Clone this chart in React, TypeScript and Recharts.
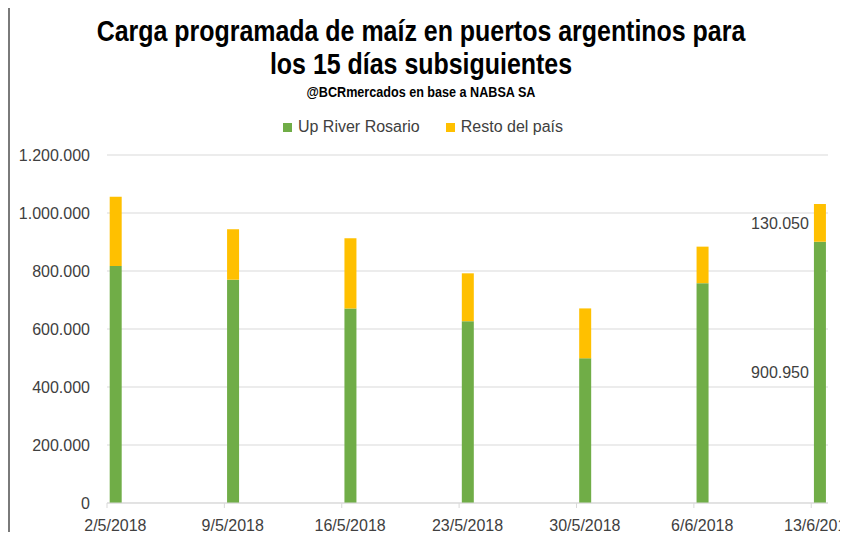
import { Bar, BarChart, CartesianGrid, LabelList, Legend, XAxis, YAxis } from "recharts";

const dates = ["2/5/2018", "9/5/2018", "16/5/2018", "23/5/2018", "30/5/2018", "6/6/2018", "13/6/2018"];
const upRiverRosario = [817000, 770000, 671000, 627000, 499000, 758000, 900950];
const restoDelPais = [239000, 174000, 242000, 165000, 172000, 126000, 130050];
const yTicks = [0, 200000, 400000, 600000, 800000, 1000000, 1200000];

const GREEN = "#70ad47";
const YELLOW = "#ffc000";
const TEXT = "#404040";
const GRID = "#d9d9d9";
const FONT = "'Liberation Sans', Arial, sans-serif";

// Excel date axis: one slot per day, bar centered in its day slot
const WIDTH = 848;
const HEIGHT = 540;
const LEGEND_H = 18; // recharts adds the legend box to the top offset
const MARGIN = { top: 155 - LEGEND_H, right: 20, bottom: 0, left: 10 };
const Y_AXIS_W = 97;
const TOTAL_DAYS = 43;
const DAY_PX = (WIDTH - MARGIN.left - MARGIN.right - Y_AXIS_W) / TOTAL_DAYS;

function dayOffset(label: string) {
  const [d, m, y] = label.split("/").map(Number);
  const [d0, m0, y0] = dates[0].split("/").map(Number);
  return Math.round((Date.UTC(y, m - 1, d) - Date.UTC(y0, m0 - 1, d0)) / 86400000);
}

const rows = dates.map((date, i) => ({
  x: dayOffset(date) + 0.5,
  date,
  upRiver: upRiverRosario[i],
  resto: restoDelPais[i],
}));

const xTicks = rows.map((r) => r.x);

function fmt(v: number) {
  return String(Math.round(v)).replace(/\B(?=(\d{3})+(?!\d))/g, ".");
}

function XTick({ x, y, payload }: any) {
  const row = rows.find((r) => r.x === payload.value);
  const tx = x - DAY_PX / 2;
  return (
    <g>
      <line x1={tx} x2={tx} y1={y} y2={y + 5} stroke={GRID} />
      <text x={x} y={y + 28} textAnchor="middle" fill={TEXT} fontSize={16} fontFamily={FONT}>
        {row ? row.date : ""}
      </text>
    </g>
  );
}

function lastLabel(props: any) {
  const { x, y, height, value, index } = props;
  if (index !== rows.length - 1) return null;
  return (
    <text x={x - 5} y={y + height / 2} dy={6} textAnchor="end" fill={TEXT} fontSize={16} fontFamily={FONT}>
      {fmt(value)}
    </text>
  );
}

function LegendContent() {
  const items = [
    { label: "Up River Rosario", color: GREEN },
    { label: "Resto del país", color: YELLOW },
  ];
  return (
    <div style={{ display: "flex", justifyContent: "center", gap: 26, fontFamily: FONT, fontSize: 16, lineHeight: "18px", color: TEXT }}>
      {items.map((it) => (
        <div key={it.label} style={{ display: "flex", alignItems: "center", gap: 6 }}>
          <span style={{ width: 9, height: 9, background: it.color, display: "inline-block" }} />
          {it.label}
        </div>
      ))}
    </div>
  );
}

const titleStyle = {
  position: "absolute" as const,
  left: 0,
  width: WIDTH - 6,
  textAlign: "center" as const,
  fontFamily: FONT,
  fontWeight: "bold",
  color: "#000",
  transform: "scaleX(0.86)",
  transformOrigin: "50% 50%",
};

export default function App() {
  return (
    <div style={{ margin: -8, width: WIDTH, height: HEIGHT, position: "relative", overflow: "hidden", background: "#fff" }}>
      <div
        style={{
          position: "absolute",
          left: 8,
          top: 3,
          width: 835,
          height: 600,
          border: "2px solid #7a7a7a",
          boxSizing: "border-box",
        }}
      />
      <div style={{ ...titleStyle, top: 15, fontSize: 29, lineHeight: "33px" }}>
        Carga programada de maíz en puertos argentinos para
        <br />
        los 15 días subsiguientes
      </div>
      <div style={{ ...titleStyle, top: 84, fontSize: 14, transform: "scaleX(0.9)" }}>
        @BCRmercados en base a NABSA SA
      </div>
      <BarChart width={WIDTH} height={HEIGHT} data={rows} margin={MARGIN} style={{ position: "absolute", left: 0, top: 0 }}>
        <CartesianGrid vertical={false} stroke={GRID} />
        <XAxis
          dataKey="x"
          type="number"
          domain={[0, TOTAL_DAYS]}
          ticks={xTicks}
          interval={0}
          height={37}
          stroke={GRID}
          tickLine={false}
          tickSize={0}
          tickMargin={0}
          tick={<XTick />}
        />
        <YAxis
          domain={[0, 1200000]}
          ticks={yTicks}
          width={Y_AXIS_W}
          axisLine={false}
          tickLine={false}
          tickSize={0}
          tickMargin={17}
          tickFormatter={fmt}
          tick={{ fill: TEXT, fontSize: 16, fontFamily: FONT }}
        />
        <Legend
          verticalAlign="top"
          content={<LegendContent />}
          wrapperStyle={{ top: 118, left: 0, width: WIDTH - 2, height: LEGEND_H }}
        />
        <Bar dataKey="upRiver" name="Up River Rosario" stackId="a" fill={GREEN} barSize={12} isAnimationActive={false}>
          <LabelList dataKey="upRiver" content={lastLabel} />
        </Bar>
        <Bar dataKey="resto" name="Resto del país" stackId="a" fill={YELLOW} barSize={12} isAnimationActive={false}>
          <LabelList dataKey="resto" content={lastLabel} />
        </Bar>
      </BarChart>
    </div>
  );
}
